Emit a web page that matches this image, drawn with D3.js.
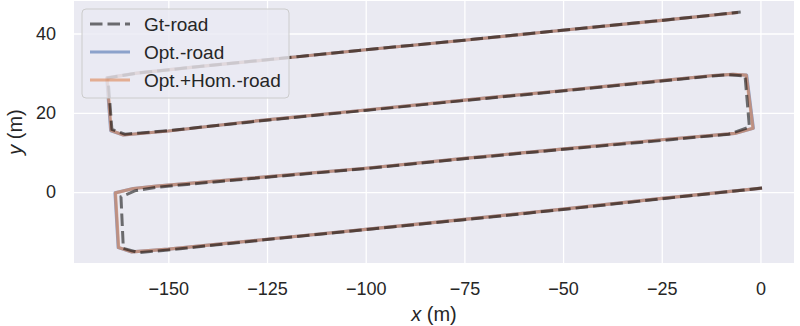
<!DOCTYPE html>
<html>
<head>
<meta charset="utf-8">
<script src="https://cdn.jsdelivr.net/npm/d3@7"></script>
<style>
  body { margin: 0; background: #fff; }
  text { font-family: "Liberation Sans", Arial, sans-serif; fill: #262626; }
</style>
</head>
<body>
<div id="chart"></div>
<script>
// ground truth trajectory (m)
const gtRoad = [
  [0.4, 1.0], [-25, -1.7], [-50, -4.4], [-75, -7.0], [-100, -9.5], [-125, -12.0],
  [-150, -14.6], [-157.5, -15.3], [-161.4, -14.2], [-162.0, -1.2], [-158.5, 0.3],
  [-153, 1.2], [-129, 3.4], [-100, 5.9], [-75, 8.4], [-53, 10.5], [-25, 13.0],
  [-8, 14.6], [-2.8, 16.4], [-3.9, 29.3], [-8, 29.6], [-12, 29.3], [-25, 28.0],
  [-53, 25.2], [-75, 23.1], [-100, 20.6], [-129, 17.7], [-150, 15.5], [-161, 14.6],
  [-164.3, 15.8], [-165.3, 28.8], [-158, 30.0], [-140, 31.9], [-116.7, 34.2],
  [-100, 35.9], [-75, 38.3], [-53.3, 40.5], [-25, 43.3], [-5.0, 45.4]
];

// optimised trajectory
const optRoad = [
  [0.4, 1.0], [-25, -1.6], [-50, -4.3], [-75, -6.9], [-100, -9.4], [-125, -11.9],
  [-150, -14.4], [-159.3, -15.1], [-162.7, -14.0], [-163.5, -0.2], [-158.9, 0.9],
  [-153, 1.5], [-129, 3.5], [-100, 6.0], [-75, 8.5], [-53, 10.6], [-25, 13.2],
  [-6.5, 14.8], [-1.8, 16.1], [-3.5, 29.5], [-7, 29.7], [-12, 29.4], [-25, 28.1],
  [-53, 25.3], [-75, 23.2], [-100, 20.7], [-129, 17.8], [-150, 15.4], [-161.4, 14.4],
  [-164.6, 15.5], [-165.6, 28.8], [-158, 30.0], [-140, 31.9], [-116.7, 34.2],
  [-100, 35.9], [-75, 38.3], [-53.3, 40.5], [-25, 43.3], [-5.7, 45.3]
];

// optimised + homography trajectory
const optHomRoad = [
  [0.4, 1.0], [-25, -1.6], [-50, -4.3], [-75, -6.9], [-100, -9.4], [-125, -11.9],
  [-150, -14.4], [-159.2, -15.1], [-162.6, -14.0], [-163.4, -0.2], [-158.8, 0.9],
  [-153, 1.5], [-129, 3.5], [-100, 6.0], [-75, 8.5], [-53, 10.6], [-25, 13.2],
  [-6.5, 14.8], [-1.9, 16.1], [-3.6, 29.5], [-7, 29.7], [-12, 29.4], [-25, 28.1],
  [-53, 25.3], [-75, 23.2], [-100, 20.7], [-129, 17.8], [-150, 15.4], [-161.4, 14.4],
  [-164.5, 15.5], [-165.5, 28.8], [-158, 30.0], [-140, 31.9], [-116.7, 34.2],
  [-100, 35.9], [-75, 38.3], [-53.3, 40.5], [-25, 43.3], [-5.7, 45.3]
];

const xTicks = [-150, -125, -100, -75, -50, -25, 0];
const yTicks = [0, 20, 40];

const seriesNames = ['Gt-road', 'Opt.-road', 'Opt.+Hom.-road'];

const width = 800, height = 326;
const margin = {top: 1, right: 6, bottom: 63, left: 74};
const w = width - margin.left - margin.right;
const h = height - margin.top - margin.bottom;

const svg = d3.select('#chart').append('svg')
    .attr('width', width)
    .attr('height', height);

const chart = svg.append('g')
    .attr('transform', `translate(${margin.left},${margin.top})`);

const x = d3.scaleLinear().domain([-173.9, 8.5]).range([0, w]);
const y = d3.scaleLinear().domain([-17.9, 48.2]).range([h, 0]);

chart.append('rect')
    .attr('width', w)
    .attr('height', h)
    .attr('fill', '#eaeaf2');

svg.append('defs').append('clipPath')
    .attr('id', 'clip')
  .append('rect')
    .attr('width', w)
    .attr('height', h);

// axes with grid lines
const xAxis = chart.append('g')
    .attr('transform', `translate(0,${h})`)
    .call(d3.axisBottom(x).tickValues(xTicks).tickSize(-h).tickPadding(19)
      .tickFormat(d => d3.format('')(d).replace('-', '\u2212')));
const yAxis = chart.append('g')
    .call(d3.axisLeft(y).tickValues(yTicks).tickSize(-w).tickPadding(18));

[xAxis, yAxis].forEach(a => {
  a.select('.domain').remove();
  a.selectAll('.tick line').attr('stroke', '#fff').attr('stroke-width', 1.3);
  a.selectAll('.tick text')
      .attr('fill', '#262626')
      .style('font-size', '18px')
      .style('font-family', '"Liberation Sans", Arial, sans-serif');
});

// trajectories
const line = d3.line().x(d => x(d[0])).y(d => y(d[1]));
const lines = chart.append('g').attr('clip-path', 'url(#clip)');

const styles = [
  {stroke: '#000', opacity: 0.55, width: 3, dash: '12.5,5'},
  {stroke: '#4c72b0', opacity: 0.6, width: 3.2, dash: null},
  {stroke: '#dd8452', opacity: 0.6, width: 3.2, dash: null}
];

lines.append('path').datum(optRoad)
    .attr('d', line).attr('fill', 'none')
    .attr('stroke', styles[1].stroke).attr('stroke-opacity', styles[1].opacity)
    .attr('stroke-width', styles[1].width).attr('stroke-linejoin', 'round');

lines.append('path').datum(optHomRoad)
    .attr('d', line).attr('fill', 'none')
    .attr('stroke', styles[2].stroke).attr('stroke-opacity', styles[2].opacity)
    .attr('stroke-width', styles[2].width).attr('stroke-linejoin', 'round');

lines.append('path').datum(gtRoad)
    .attr('d', line).attr('fill', 'none')
    .attr('stroke', styles[0].stroke).attr('stroke-opacity', styles[0].opacity)
    .attr('stroke-width', styles[0].width).attr('stroke-dasharray', styles[0].dash);

// axis labels
svg.append('text')
    .attr('x', margin.left + w / 2)
    .attr('y', 321)
    .attr('text-anchor', 'middle')
    .style('font-size', '20px')
    .html('<tspan font-style="italic">x</tspan> (m)');

svg.append('text')
    .attr('transform', `translate(22,${margin.top + h / 2}) rotate(-90)`)
    .attr('text-anchor', 'middle')
    .style('font-size', '20px')
    .html('<tspan font-style="italic">y</tspan> (m)');

// legend
const legend = svg.append('g').attr('transform', 'translate(82,9)');
legend.append('rect')
    .attr('width', 207)
    .attr('height', 89)
    .attr('rx', 4)
    .attr('fill', '#eaeaf2')
    .attr('fill-opacity', 0.8)
    .attr('stroke', '#cccccc')
    .attr('stroke-width', 1);

seriesNames.forEach((name, i) => {
  const row = legend.append('g').attr('transform', `translate(0,${15 + i * 28})`);
  row.append('line')
      .attr('x1', 8).attr('x2', 48)
      .attr('stroke', styles[i].stroke)
      .attr('stroke-opacity', styles[i].opacity)
      .attr('stroke-width', styles[i].width)
      .attr('stroke-dasharray', styles[i].dash);
  row.append('text')
      .attr('x', 62)
      .attr('dy', '0.35em')
      .style('font-size', '19px')
      .text(name);
});
</script>
</body>
</html>
